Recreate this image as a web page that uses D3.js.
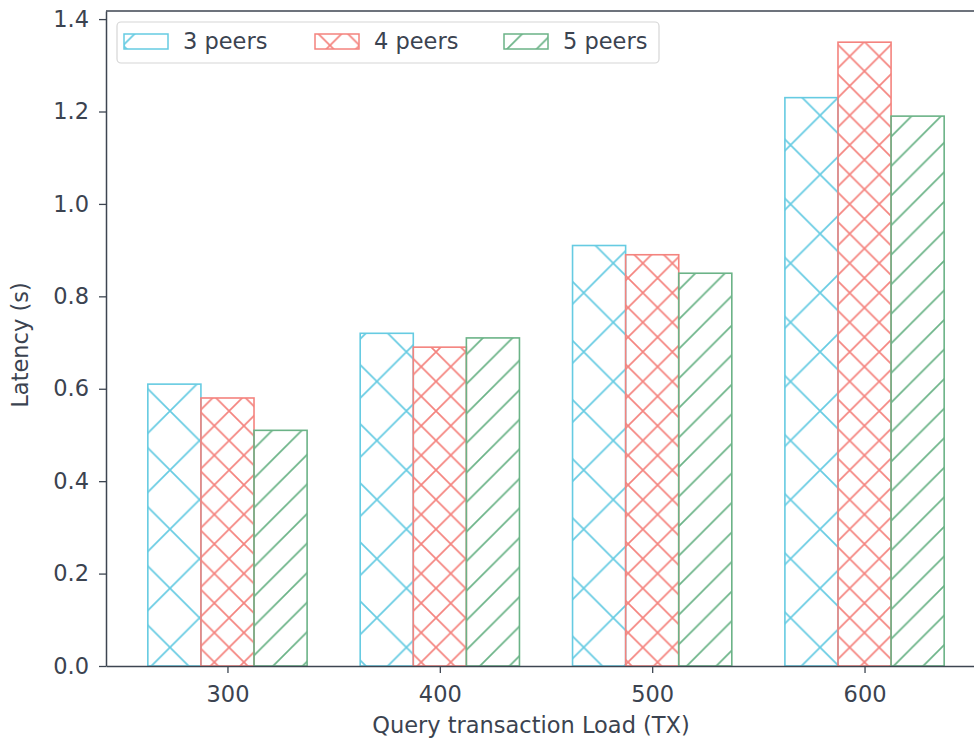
<!DOCTYPE html>
<html>
<head>
<meta charset="utf-8">
<script src="https://cdn.jsdelivr.net/npm/d3@7"></script>
<style>
  html, body { margin: 0; padding: 0; background: #ffffff; }
  svg { display: block; font-family: "DejaVu Sans", sans-serif; }
</style>
</head>
<body>
<svg id="chart" width="974" height="742"></svg>
<script>
// Query latency per transaction load, grouped by number of peers
const categories = ["300", "400", "500", "600"];
const seriesNames = ["3 peers", "4 peers", "5 peers"];
const peers3 = [0.61, 0.72, 0.91, 1.23];
const peers4 = [0.58, 0.69, 0.89, 1.35];
const peers5 = [0.51, 0.71, 0.85, 1.19];
const yTickValues = [0.0, 0.2, 0.4, 0.6, 0.8, 1.0, 1.2, 1.4];

const seriesValues = [peers3, peers4, peers5];
const colors = ["#66cbe2", "#f4837e", "#6bb387"];
const hatchIds = ["hatch-x", "hatch-xx", "hatch-fwd"];

const textColor = "#3b4350";
const spineColor = "#3d4551";
const fontSize = 22.5;

const margin = { left: 106, top: 11 };
const plotW = 880;   // right edge runs past the canvas
const plotH = 655;

const svg = d3.select("#chart");

// ---- hatch patterns (user space of the plot group) ----
const defs = svg.append("defs");
function addHatch(id, size, color, back, fwd, tx, ty) {
  const p = defs.append("pattern")
    .attr("id", id)
    .attr("patternUnits", "userSpaceOnUse")
    .attr("width", size).attr("height", size)
    .attr("patternTransform", `translate(${tx - margin.left},${ty - margin.top})`);
  let d = "";
  if (back) d += `M0,0L${size},${size}M-2,${size - 2}L2,${size + 2}M${size - 2},-2L${size + 2},2`;
  if (fwd) d += `M0,${size}L${size},0M-2,2L2,-2M${size - 2},${size + 2}L${size + 2},${size - 2}`;
  p.append("path").attr("d", d)
    .attr("stroke", color).attr("stroke-width", 1.7).attr("fill", "none");
}
addHatch("hatch-x", 59.1, colors[0], true, true, 22.25, 26.85);
addHatch("hatch-xx", 29.55, colors[1], true, true, 7.5, 12.1);
addHatch("hatch-fwd", 29.55, colors[2], false, true, 23, 0);

// ---- scales ----
const x = d3.scaleLinear().domain([-0.572, categories.length - 1 + 0.572]).range([0, plotW]);
const y = d3.scaleLinear().domain([0, 1.4175]).range([plotH, 0]);
const barW = 0.25;

const g = svg.append("g").attr("transform", `translate(${margin.left},${margin.top})`);

// ---- bars ----
seriesValues.forEach((vals, s) => {
  const off = (s - 1) * barW;
  g.selectAll(null)
    .data(vals)
    .enter().append("rect")
    .attr("x", (d, i) => x(i + off - barW / 2))
    .attr("width", (d, i) => x(i + off + barW / 2) - x(i + off - barW / 2))
    .attr("y", d => y(d))
    .attr("height", d => y(0) - y(d))
    .attr("fill", `url(#${hatchIds[s]})`)
    .attr("stroke", colors[s])
    .attr("stroke-width", 1.6);
});

// ---- axes ----
const xAxis = d3.axisBottom(x)
  .tickValues(d3.range(categories.length))
  .tickFormat(i => categories[i])
  .tickSize(7).tickSizeOuter(0).tickPadding(13);
const yAxis = d3.axisLeft(y)
  .tickValues(yTickValues)
  .tickFormat(d3.format(".1f"))
  .tickSize(7).tickSizeOuter(0).tickPadding(10);

const gx = g.append("g").attr("transform", `translate(0,${plotH})`).call(xAxis);
const gy = g.append("g").call(yAxis);
[gx, gy].forEach(a => {
  a.select(".domain").attr("stroke", spineColor).attr("stroke-width", 1.5);
  a.selectAll(".tick line").attr("stroke", spineColor).attr("stroke-width", 1.3);
  a.selectAll(".tick text").attr("fill", textColor).attr("font-size", fontSize)
    .attr("font-family", "DejaVu Sans, sans-serif");
});

// top and right spines
g.append("line").attr("x1", 0).attr("x2", plotW).attr("y1", 0).attr("y2", 0)
  .attr("stroke", spineColor).attr("stroke-width", 1.5);
g.append("line").attr("x1", plotW).attr("x2", plotW).attr("y1", 0).attr("y2", plotH)
  .attr("stroke", spineColor).attr("stroke-width", 1.5);

// ---- axis titles ----
svg.append("text")
  .attr("x", 531).attr("y", 733)
  .attr("text-anchor", "middle")
  .attr("fill", textColor).attr("font-size", fontSize)
  .text("Query transaction Load (TX)");
svg.append("text")
  .attr("transform", "translate(28,345) rotate(-90)")
  .attr("text-anchor", "middle")
  .attr("fill", textColor).attr("font-size", fontSize)
  .text("Latency (s)");

// ---- legend ----
const legend = svg.append("g");
legend.append("rect")
  .attr("x", 117).attr("y", 22).attr("width", 542).attr("height", 41)
  .attr("rx", 4).attr("fill", "#ffffff").attr("fill-opacity", 0.85)
  .attr("stroke", "#d6d6d6").attr("stroke-width", 1.2);
const legendX = [124, 315, 504];
seriesNames.forEach((name, s) => {
  legend.append("rect")
    .attr("x", legendX[s]).attr("y", 34).attr("width", 44).attr("height", 15)
    .attr("fill", `url(#${hatchIds[s]})`)
    .attr("stroke", colors[s]).attr("stroke-width", 1.5);
  legend.append("text")
    .attr("x", legendX[s] + 59).attr("y", 49)
    .attr("fill", textColor).attr("font-size", fontSize)
    .text(name);
});
</script>
</body>
</html>
